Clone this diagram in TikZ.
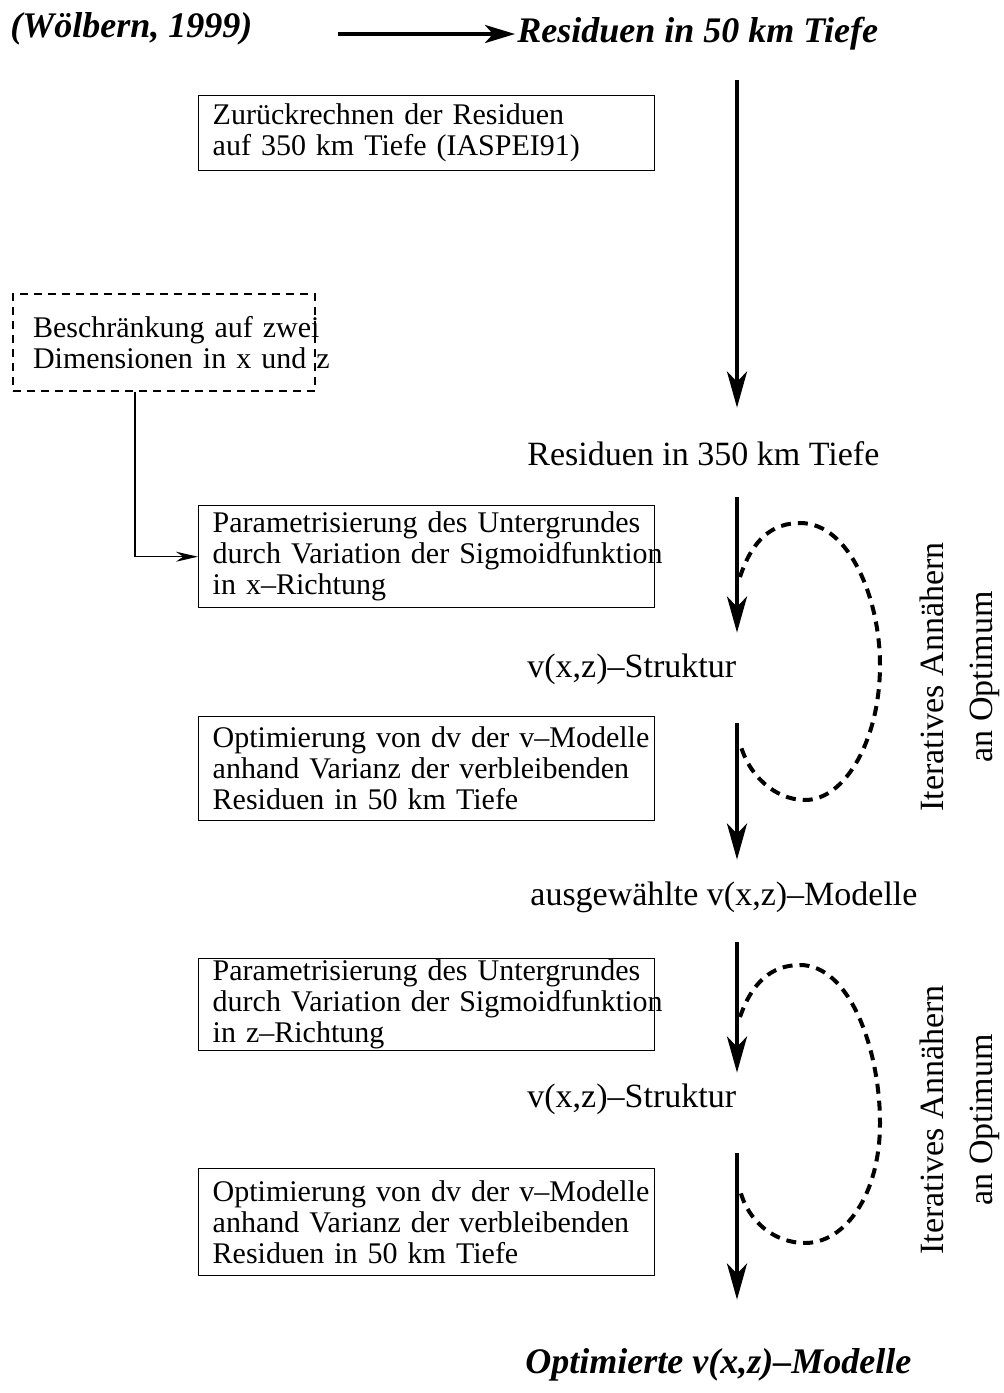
\documentclass[tikz,border=0pt]{standalone}
\usepackage{fontspec}
\setmainfont{Liberation Serif}
\usetikzlibrary{arrows.meta}

\begin{document}
\begin{tikzpicture}[x=0.5pt, y=-0.5pt, >={Stealth[length=18pt,width=10pt,inset=5pt]},
  stepbox/.style={draw, line width=0.7pt, anchor=north west, text width=214pt,
    inner xsep=7pt, inner ysep=0pt, align=left, font=\fontsize{15}{15.5}\selectfont},
  limitbox/.style={stepbox, dashed, line width=1pt, dash pattern=on 4pt off 3pt,
    text width=131pt, inner xsep=10pt},
  lbl/.style={inner sep=0pt, anchor=base west, text height=12pt, text depth=4pt,
    font=\fontsize{17}{19}\selectfont},
  hdg/.style={lbl, font=\fontsize{18}{20}\selectfont\bfseries\itshape},
  rot/.style={rotate=90, align=center, inner sep=0pt, font=\fontsize{17}{24.5}\selectfont},
  flow/.style={->, line width=2pt},
  feed/.style={-{Stealth[length=11pt,width=5pt]}, line width=0.75pt},
  loop/.style={line width=2pt, dash pattern=on 5pt off 3.5pt}]

\useasboundingbox (0,0) rectangle (1003,1393);

% ============================
% Top line
% ============================
\node[hdg] (wolb)  at (10,37)  {(Wölbern, 1999)};
\node[hdg] (res50) at (517,42) {Residuen in 50 km Tiefe};

\draw[line width=2pt, -{Stealth[length=15pt,width=9pt,inset=4pt]}, shorten <=42.5pt, shorten >=1pt]
    (wolb.east |- res50.west) -- (res50.west);

% ============================
% Boxes (left column)
% ============================
\node[stepbox, minimum height=37.5pt] (back) at (198,95)
  {\mbox{Zurückrechnen der Residuen}\\\mbox{auf 350 km Tiefe (IASPEI91)}};

\node[limitbox, minimum height=48.5pt] (limit) at (12,293)
  {\mbox{Beschränkung auf zwei}\\\mbox{Dimensionen in x und z}};

\node[stepbox, minimum height=51pt] (parx) at (198,505)
  {\mbox{Parametrisierung des Untergrundes}\\\mbox{durch Variation der Sigmoidfunktion}\\\mbox{in x--Richtung}};

\node[stepbox, minimum height=52pt] (optA) at (198,716)
  {\mbox{Optimierung von dv der v--Modelle}\\\mbox{anhand Varianz der verbleibenden}\\\mbox{Residuen in 50 km Tiefe}};

\node[stepbox, minimum height=46pt] (parz) at (198,958)
  {\mbox{Parametrisierung des Untergrundes}\\\mbox{durch Variation der Sigmoidfunktion}\\\mbox{in z--Richtung}};

\node[stepbox, minimum height=53.5pt] (optB) at (198,1168)
  {\mbox{Optimierung von dv der v--Modelle}\\\mbox{anhand Varianz der verbleibenden}\\\mbox{Residuen in 50 km Tiefe}};

% dashed box -> parametrisation
\draw[feed] ([xshift=-14.5pt]limit.south) |- (parx.west);

% ============================
% Results (right column)
% ============================
\node[lbl] (res350) at (527,465)  {Residuen in 350 km Tiefe};
\node[lbl] (vxzA)   at (527,677)  {v(x,z)--Struktur};
\node[lbl] (chosen) at (530,905)  {ausgewählte v(x,z)--Modelle};
\node[lbl] (vxzB)   at (527,1107) {v(x,z)--Struktur};
\node[hdg] (final)  at (525,1373) {Optimierte v(x,z)--Modelle};

\coordinate (col) at (737,0);

\draw[flow, shorten <=15pt, shorten >=16.5pt] (res50.south -| col)  -- (res350.north -| col);
\draw[flow, shorten <=12pt, shorten >=10pt]   (res350.south -| col) -- (vxzA.north -| col);
\draw[flow, shorten <=19pt, shorten >=10.5pt] (vxzA.south -| col)   -- (chosen.north -| col);
\draw[flow, shorten <=14.5pt, shorten >=5pt]  (chosen.south -| col) -- (vxzB.north -| col);
\draw[flow, shorten <=19pt, shorten >=24.5pt] (vxzB.south -| col)   -- (final.north -| col);

% ============================
% Iteration loops
% ============================
\coordinate (loopAin)  at (740,577);
\coordinate (loopAout) at (740,743);
\coordinate (loopBin)  at (740,1017);
\coordinate (loopBout) at (740,1190);

\draw[loop] (loopAin) .. controls (752,540) and (772,523) .. (800,523)
    .. controls (850,523) and (880,600) .. (880,665)
    .. controls (880,740) and (845,800) .. (805,800)
    .. controls (775,800) and (748,775) .. (loopAout);

\draw[loop] (loopBin) .. controls (752,982) and (772,965) .. (800,965)
    .. controls (850,965) and (880,1050) .. (880,1123)
    .. controls (880,1195) and (845,1243) .. (805,1243)
    .. controls (775,1243) and (748,1222) .. (loopBout);

\node[rot] (iterA) at (960,677)  {Iteratives Annähern\\an Optimum};
\node[rot] (iterB) at (960,1120) {Iteratives Annähern\\an Optimum};

\end{tikzpicture}
\end{document}
